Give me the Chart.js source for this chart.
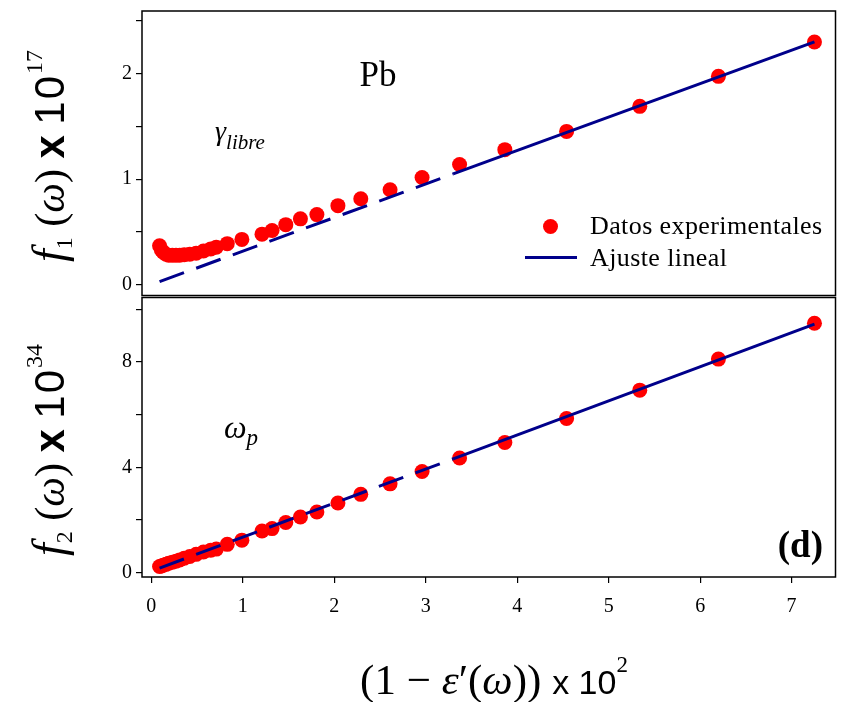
<!DOCTYPE html>
<html>
<head>
<meta charset="utf-8">
<script src="https://cdn.jsdelivr.net/npm/chart.js@4.4.0/dist/chart.umd.min.js"></script>
<style>
  body { margin: 0; background: #fff; }
  #wrap { position: relative; width: 843px; height: 702px; background: #fff; overflow: hidden;
          font-family: "Liberation Serif", serif; color: #000; }
  canvas { position: absolute; left: 0; }
  .lbl { position: absolute; white-space: nowrap; line-height: 1; }
  .sans { font-family: "Liberation Sans", Arial, sans-serif; font-style: normal; }
  .ytitle { transform: translate(-50%, -50%) rotate(-90deg); font-size: 42px; }
  .ytitle sub { font-size: 24px; vertical-align: -8px; }
  .ytitle sup { font-size: 24px; vertical-align: 22px; }
  .dot { position: absolute; width: 15px; height: 15px; border-radius: 50%; background: #ff0000; }
  .legline { position: absolute; height: 3px; background: #00008b; }
  .legtxt { font-size: 26px; letter-spacing: 0.4px; }
</style>
</head>
<body>
<div id="wrap">
  <canvas id="topChart" width="843" height="303" style="top:0"></canvas>
  <canvas id="bottomChart" width="843" height="412" style="top:290px"></canvas>

  <div class="lbl ytitle" style="left:49px;top:156px">
    <i style="font-size:46px">f</i><sub>1</sub>&nbsp;(<i>ω</i>)&nbsp;<b class="sans" style="font-size:42px">x</b>&nbsp;<span class="sans" style="letter-spacing:2px">10</span><sup>17</sup>
  </div>
  <div class="lbl ytitle" style="left:49px;top:450px">
    <i style="font-size:46px">f</i><sub>2</sub>&nbsp;(<i>ω</i>)&nbsp;<b class="sans" style="font-size:42px">x</b>&nbsp;<span class="sans" style="letter-spacing:2px">10</span><sup>34</sup>
  </div>
  <div class="lbl" style="left:494px;top:677px;transform:translate(-50%,-50%);font-size:43px">
    (1 − <i>ε</i>′(<i>ω</i>)) <span class="sans" style="font-size:34px">x 10</span><sup style="font-size:23px;vertical-align:22px">2</sup>
  </div>

  <div class="lbl" style="left:378px;top:57px;transform:translateX(-50%);font-size:35px">Pb</div>
  <div class="lbl" style="left:215px;top:117px;font-size:28px"><i>γ</i><i style="font-size:21px;vertical-align:-9px">libre</i></div>
  <div class="lbl" style="left:224px;top:411px;font-size:32px"><i>ω</i><i style="font-size:23px;vertical-align:-7px">p</i></div>
  <div class="lbl" style="right:20px;top:526px;font-size:37px;font-weight:bold">(d)</div>

  <div class="dot" style="left:543px;top:219px"></div>
  <div class="lbl legtxt" style="left:590px;top:213px">Datos experimentales</div>
  <div class="legline" style="left:525px;top:256px;width:52px"></div>
  <div class="lbl legtxt" style="left:590px;top:245px">Ajuste lineal</div>
</div>

<script>
// (1 - eps'(w)) x 10^2, shared by both panels
const epsX = [0.09, 0.11, 0.13, 0.16, 0.19, 0.23, 0.27, 0.31, 0.36, 0.42, 0.49, 0.57, 0.65, 0.71,
  0.83, 0.99, 1.21, 1.32, 1.47, 1.63, 1.81, 2.04, 2.29, 2.61, 2.96, 3.37, 3.865, 4.54, 5.34, 6.20, 7.25];

// f1 (x 10^17) and f2 (x 10^34)
const f1Vals = [0.37, 0.33, 0.31, 0.29, 0.28, 0.28, 0.28, 0.28, 0.285, 0.29, 0.30, 0.32, 0.34, 0.357,
  0.39, 0.43, 0.48, 0.515, 0.57, 0.625, 0.665, 0.75, 0.815, 0.90, 1.017, 1.14, 1.28, 1.453, 1.69, 1.974, 2.30];
const f2Vals = [0.23, 0.25, 0.28, 0.31, 0.35, 0.39, 0.43, 0.48, 0.54, 0.61, 0.69, 0.78, 0.85, 0.89,
  1.07, 1.23, 1.58, 1.67, 1.90, 2.11, 2.30, 2.64, 2.97, 3.37, 3.84, 4.35, 4.94, 5.85, 6.93, 8.11, 9.47];

// linear fit: dashed extrapolation + solid fitted part
const fitDashX = [0.09, 3.30];
const fitSolidX = [3.30, 7.25];
const fit1DashY = [0.03, 1.05];
const fit1SolidY = [1.05, 2.30];
const fit2DashY = [0.17, 4.32];
const fit2SolidY = [4.32, 9.44];

// ticks
const xTicks = [0, 1, 2, 3, 4, 5, 6, 7];
const f1Ticks = [0, 0.5, 1, 1.5, 2, 2.5];
const f1Labels = [0, 1, 2];
const f2Ticks = [0, 2, 4, 6, 8, 10];
const f2Labels = [0, 4, 8];

const RED = "#ff0000";
const NAVY = "#00008b";
const tickFont = { family: "Liberation Serif", size: 20 };

const framePlugin = {
  id: "frame",
  afterDraw(chart) {
    const { ctx, chartArea: a } = chart;
    ctx.save();
    ctx.strokeStyle = "#000";
    ctx.lineWidth = 1.5;
    ctx.strokeRect(a.left, a.top, a.right - a.left, a.bottom - a.top);
    ctx.restore();
  },
};

function toPoints(xs, ys) {
  return xs.map((x, i) => ({ x: x, y: ys[i] }));
}

function makePanel(canvasId, vals, dashY, solidY, yMin, yMax, yTicks, yLabels, showX, padding) {
  return new Chart(document.getElementById(canvasId), {
    type: "scatter",
    data: {
      datasets: [
        {
          data: toPoints(fitDashX, dashY),
          showLine: true,
          borderColor: NAVY,
          borderWidth: 3,
          borderDash: [26, 13],
          pointRadius: 0,
          order: 0,
        },
        {
          data: toPoints(fitSolidX, solidY),
          showLine: true,
          borderColor: NAVY,
          borderWidth: 3,
          pointRadius: 0,
          order: 0,
        },
        {
          data: toPoints(epsX, vals),
          pointRadius: 7.5,
          pointBackgroundColor: RED,
          pointBorderColor: RED,
          pointBorderWidth: 0,
          order: 1,
        },
      ],
    },
    options: {
      responsive: false,
      animation: false,
      devicePixelRatio: 1,
      layout: { padding: padding },
      plugins: { legend: { display: false }, tooltip: { enabled: false } },
      scales: {
        x: {
          type: "linear",
          display: showX,
          min: -0.102,
          max: 7.48,
          afterBuildTicks: (s) => { s.ticks = xTicks.map((v) => ({ value: v })); },
          afterFit: (s) => {
            if (showX) s.height = 125;
            s.paddingLeft = 0;
            s.paddingRight = 0;
          },
          ticks: { font: tickFont, color: "#000", padding: 12, maxRotation: 0, autoSkip: false },
          grid: { drawOnChartArea: false, tickLength: 6, color: "#000", lineWidth: 1.2 },
          border: { display: false },
        },
        y: {
          min: yMin,
          max: yMax,
          afterBuildTicks: (s) => { s.ticks = yTicks.map((v) => ({ value: v })); },
          afterFit: (s) => { s.width = 142; s.paddingTop = 0; s.paddingBottom = 0; },
          ticks: {
            font: tickFont,
            color: "#000",
            padding: 4,
            autoSkip: false,
            callback: (v) => (yLabels.includes(v) ? String(v) : ""),
          },
          grid: { drawOnChartArea: false, tickLength: 6, color: "#000", lineWidth: 1.2 },
          border: { display: false },
        },
      },
    },
    plugins: [framePlugin],
  });
}

makePanel("topChart", f1Vals, fit1DashY, fit1SolidY, -0.101, 2.593, f1Ticks, f1Labels, false,
  { top: 11, right: 3, bottom: 1, left: 0 });
makePanel("bottomChart", f2Vals, fit2DashY, fit2SolidY, -0.17, 10.45, f2Ticks, f2Labels, true,
  { top: 6, right: 3, bottom: 0, left: 0 });
</script>
</body>
</html>
